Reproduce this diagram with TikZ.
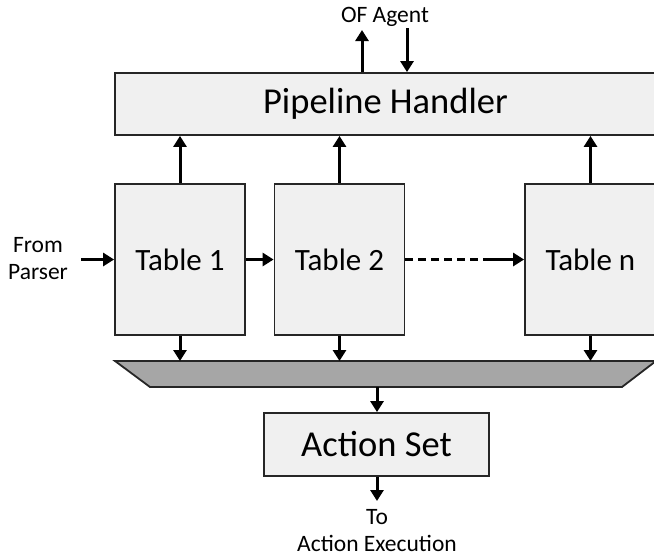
\documentclass[tikz,border=0pt]{standalone}
\usepackage{fontspec}
\setmainfont{Carlito}
\usetikzlibrary{arrows.meta}
\begin{document}
\begin{tikzpicture}[x=1pt,y=-1pt,
  box/.style={draw=black!85, line width=1.8pt, fill=black!6, inner sep=0pt},
  arr/.style={line width=3pt, -{Triangle[length=11pt,width=13pt]}},
  lbl/.style={font=\fontsize{23.5}{27}\selectfont, align=center, inner sep=0pt},
  big/.style={font=\fontsize{36.5}{42}\selectfont},
  mid/.style={font=\fontsize{31}{36}\selectfont}
]
\useasboundingbox (0,0) rectangle (654,560);
% Pipeline handler
\node[box, big, minimum width=541pt, minimum height=62pt] (ph) at (385.5,104) {Pipeline Handler};
% OF agent
\node[lbl] (of) at (385,17) {OF Agent};
\coordinate (ofup) at (362,30);
\coordinate (ofdn) at (407,28);
\draw[arr] (ph.north -| ofup) -- (ofup);
\draw[arr] (ofdn) -- (ofdn |- ph.north);
% tables
\node[box, mid, minimum width=130pt, minimum height=151pt] (t1) at (180,259.5) {Table 1};
\node[box, mid, minimum width=130pt, minimum height=151pt] (t2) at (339.5,259.5) {Table 2};
\node[box, mid, minimum width=131pt, minimum height=151pt] (tn) at (590.5,259.5) {Table n};
\draw[arr] (t1.north) -- (t1.north |- ph.south);
\draw[arr] (t2.north) -- (t2.north |- ph.south);
\draw[arr] (tn.north) -- (tn.north |- ph.south);
% from parser
\node[lbl] (fp) at (38,259) {From\\Parser};
\coordinate (fpo) at (81,259.5);
\draw[arr] (fpo) -- (t1.west);
\draw[arr] (t1.east) -- (t2.west);
\coordinate (dend) at (485,259.5);
\draw[line width=3pt, dash pattern=on 8pt off 5pt] (t2.east) -- (dend);
\draw[arr] (dend) -- (tn.west);
% trapezoid
\draw[draw=black!85, line width=1.8pt, fill=black!35] (115,361) coordinate (trtop) -- (656,361) -- (622,387) -- (150,387) -- cycle;
\coordinate (trbot) at (377,387);
\draw[arr] (t1.south) -- (t1.south |- trtop);
\draw[arr] (t2.south) -- (t2.south |- trtop);
\draw[arr] (tn.south) -- (tn.south |- trtop);
% action set
\node[box, big, minimum width=225pt, minimum height=63pt] (as) at (376.5,444.5) {Action Set};
\draw[arr] (trbot) -- (trbot |- as.north);
\node[lbl, font=\fontsize{23.5}{27}\selectfont] (ae) at (377,530.5) {To\\Action Execution};
\coordinate (aeo) at (377,501);
\draw[arr] (as.south -| aeo) -- (aeo);
\end{tikzpicture}
\end{document}
